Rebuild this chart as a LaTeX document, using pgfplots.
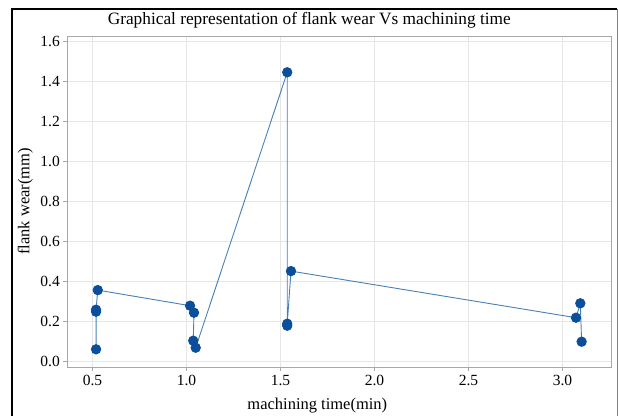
\documentclass[border=0pt]{standalone}
\usepackage{fontspec}
\setmainfont{Liberation Serif}
\usepackage{pgfplots}
\pgfplotsset{compat=1.18}
\usetikzlibrary{calc}
\definecolor{ptblue}{HTML}{0B4F9C}
\definecolor{lnblue}{HTML}{4680B5}
\definecolor{gridgray}{HTML}{E6E6E6}
\definecolor{axgray}{HTML}{A8A8A8}

\begin{document}
\begin{tikzpicture}
  \begin{axis}[
    scale only axis,
    width=544.4pt, height=331pt,
    xmin=0.366, xmax=3.262,
    ymin=-0.0265, ymax=1.6285,
    xtick={0.5,1.0,1.5,2.0,2.5,3.0},
    ytick={0,0.2,0.4,0.6,0.8,1.0,1.2,1.4,1.6},
    /pgf/number format/assume math mode=true,
    /pgf/number format/.cd, fixed, fixed zerofill, precision=1, /pgfplots/.cd,
    tick label style={font=\fontsize{15.5}{17}\selectfont},
    grid=major,
    grid style={gridgray, line width=0.6pt},
    axis line style={axgray, line width=0.8pt},
    tick style={axgray, line width=0.8pt},
    tick align=outside,
    tick pos=left,
    major tick length=4pt,
    xticklabel style={yshift=-1pt},
    clip=false,
  ]
  \addplot[lnblue, line width=0.9pt, mark=*, mark size=4.7pt,
    mark options={fill=ptblue, draw=ptblue}]
    coordinates {
      (0.519,0.062) (0.519,0.250) (0.519,0.260) (0.528,0.358)
      (1.019,0.280) (1.040,0.245) (1.036,0.105) (1.049,0.070)
      (1.536,1.447) (1.536,0.180) (1.536,0.190) (1.556,0.453)
      (3.072,0.220) (3.095,0.292) (3.102,0.100)
    };
  \coordinate (sw) at (rel axis cs:0,0);
  \coordinate (ne) at (rel axis cs:1,1);
  \end{axis}
  % picture frame
  \coordinate (fl) at ($(sw)+(-55.3pt,0)$);
  \coordinate (ft) at ($(ne)+(0,27pt)$);
  \draw[black, line width=2pt] ($(fl|-ft)$) -- ($(fl|-sw)+(0,-49pt)$);
  \draw[black, line width=2pt] ($(fl|-ft)+(-1pt,0)$) -- ($(ft)+(5.3pt,0)$);
  \draw[gray, line width=0.8pt] ($(ft)+(5.3pt,0)$) -- ($(ne|-sw)+(5.3pt,-49pt)$);
  % title and labels
  \node[anchor=base, font=\fontsize{17.3}{19}\selectfont]
    at ($(sw|-ne)+(242pt,11pt)$) {Graphical representation of flank wear Vs machining time};
  \node[anchor=base, font=\fontsize{16.5}{18}\selectfont]
    at ($(sw)+(250pt,-42pt)$) {machining time(min)};
  \node[rotate=90, anchor=base, font=\fontsize{16.5}{18}\selectfont]
    at ($(sw)!0.5!(sw|-ne)+(-38pt,0)$) {flank wear(mm)};
  \pgfresetboundingbox
  \path[use as bounding box] ($(sw)+(-67.3pt,-49pt)$) rectangle ($(ne)+(6.3pt,36pt)$);
\end{tikzpicture}
\end{document}
